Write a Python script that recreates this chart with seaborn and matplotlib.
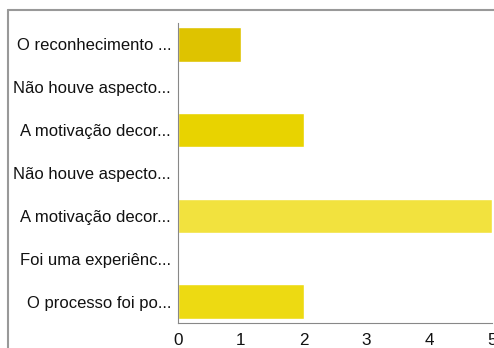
import pandas as pd
import matplotlib.pyplot as plt
import seaborn as sns
from matplotlib.lines import Line2D

# Dados do gráfico
respostas = [
    "O reconhecimento ...",
    "Não houve aspecto...",
    "A motivação decor...",
    "Não houve aspecto... ",
    "A motivação decor... ",
    "Foi uma experiênc...",
    "O processo foi po...",
]
contagem = [1, 0, 2, 0, 5, 0, 2]
cores = ["#DEC300", "#E8D300", "#E8D300", "#E8D300", "#F2E23E", "#E8D300", "#EDDA12"]

df = pd.DataFrame({"resposta": respostas, "n": contagem})

sns.set_style("white")
plt.rcParams["font.family"] = ["Liberation Sans", "DejaVu Sans"]

fig = plt.figure(figsize=(4.94, 3.48), dpi=100)
ax = fig.add_axes([178 / 494, 25 / 348, 314 / 494, 300 / 348])

sns.barplot(x="n", y="resposta", data=df, hue="resposta", palette=cores,
            legend=False, width=0.8, saturation=1, orient="h", ax=ax)

ax.set_xlim(0, 5)
ax.set_ylim(6.5, -0.5)
ax.set_xticks(range(6))
ax.set_xlabel("")
ax.set_ylabel("")
ax.tick_params(axis="y", length=3, width=0.8, color="#888888", labelsize=12,
               labelcolor="#111111", pad=2)
ax.tick_params(axis="x", length=4, width=0.8, color="#888888", labelsize=12.3,
               labelcolor="#111111", pad=3)
ax.set_yticks(range(len(respostas)))
ax.set_yticklabels([r.rstrip() for r in respostas])
sns.despine(ax=ax, top=True, right=True)
for lado in ["left", "bottom"]:
    ax.spines[lado].set_color("#888888")
    ax.spines[lado].set_linewidth(0.8)

# moldura cortada da captura
fig.add_artist(Line2D([8 / 494, 1], [1 - 10 / 348, 1 - 10 / 348], color="#999999", lw=1.5, transform=fig.transFigure))
fig.add_artist(Line2D([8 / 494, 8 / 494], [0, 1 - 10 / 348], color="#999999", lw=1.5, transform=fig.transFigure))

fig.savefig("out.png", dpi=100)
